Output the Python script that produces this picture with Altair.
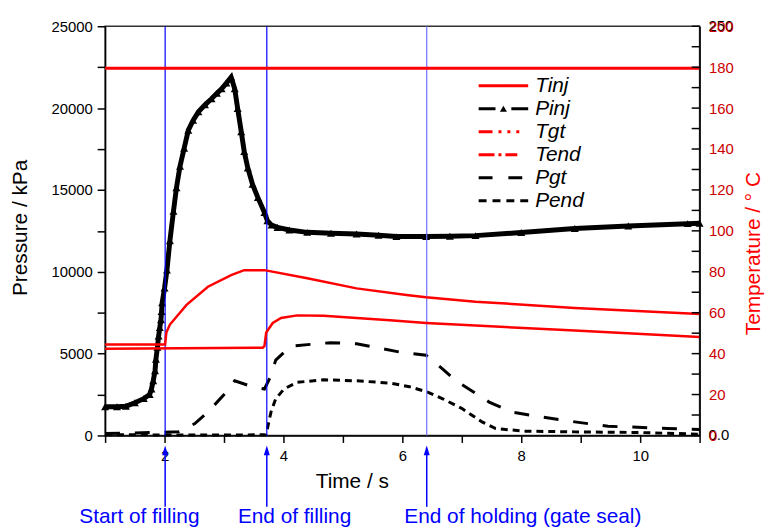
import altair as alt
import pandas as pd

# ---------------- data ----------------
pinj_t = [1.0, 1.2, 1.35, 1.5, 1.65, 1.75, 1.78, 1.81, 1.84, 1.855, 1.88, 1.9, 1.92, 1.94, 1.95, 1.96,
          2.0, 2.04, 2.09, 2.15, 2.2, 2.26, 2.33, 2.4, 2.48, 2.57, 2.68, 2.79, 2.88, 2.96, 3.04, 3.12,
          3.18, 3.23, 3.29, 3.34, 3.4, 3.48, 3.57, 3.68, 3.73, 3.8, 3.9, 4.1, 4.4, 4.8, 5.23, 5.6,
          5.9, 6.4, 6.8, 7.23, 8.0, 8.9, 9.8, 10.8, 11.0]
pinj_p = [1750, 1750, 1780, 2000, 2250, 2500, 2840, 3340, 3950, 4660, 5380, 6070, 6590, 7070, 7570, 8100,
          9000, 10100, 11900, 13700, 15130, 16450, 17550, 18650, 19250, 19770, 20200, 20570, 20900, 21180, 21530, 21890,
          21180, 19970, 18560, 17350, 16340, 15340, 14530, 13620, 13120, 12850, 12710, 12550, 12410, 12350, 12310, 12230,
          12150, 12150, 12170, 12210, 12400, 12640, 12800, 12940, 12970]

pgt_t = [1.0, 1.5, 2.0, 2.23, 2.51, 2.73, 3.01, 3.18, 3.46, 3.68, 3.79, 3.87, 4.12, 4.79, 5.23, 6.01,
         6.4, 6.68, 6.9, 7.46, 7.84, 8.34, 8.9, 9.46, 9.96, 10.46, 11.0]
pgt_p = [120, 150, 200, 223, 725, 1430, 2540, 3340, 3000, 2840, 3650, 4600, 5460, 5670, 5600, 5060,
         4900, 4050, 3340, 2040, 1430, 1130, 830, 560, 500, 420, 370]

pend_t = [1.0, 2.0, 3.0, 3.7, 3.73, 3.79, 3.87, 4.01, 4.23, 4.68, 5.23, 5.79, 6.12, 6.4, 6.68, 7.01,
          7.34, 7.57, 8.07, 8.9, 10.0, 11.0]
pend_p = [50, 30, 30, 40, 420, 1430, 2240, 2840, 3250, 3400, 3340, 3200, 2980, 2680, 2240, 1630,
          830, 420, 260, 220, 180, 80]

tinj_t = [1.0, 11.0]
tinj_v = [179.5, 179.5]

tgt_t = [1.0, 2.01, 2.03, 2.09, 2.23, 2.37, 2.73, 3.12, 3.34, 3.68, 4.4, 5.23, 6.07, 6.4, 7.23, 8.9, 11.0]
tgt_v = [44.5, 44.5, 50.3, 54.2, 59.0, 63.8, 72.7, 78.4, 80.8, 80.8, 76.8, 71.9, 68.7, 67.6, 65.4, 62.3, 59.4]

tend_t = [1.0, 3.65, 3.68, 3.71, 3.82, 3.96, 4.23, 4.68, 5.23, 5.79, 6.4, 7.23, 8.9, 11.0]
tend_v = [42.4, 42.9, 43.7, 50.3, 55.0, 57.4, 58.7, 58.5, 57.4, 56.3, 55.0, 53.7, 51.3, 48.1]

event_t = [2.01, 3.72, 6.41]
event_labels = ["Start of filling", "End of filling", "End of holding (gate seal)"]

legend_names = ["Tinj", "Pinj", "Tgt", "Tend", "Pgt", "Pend"]

temp_tick_values = list(range(0, 201, 10))
ghost_text = ["0.0", "250"]
ghost_pos = [0, 200]

# ---------------- styling ----------------
FONT = "Liberation Sans"
W, H = 600, 413
RED = "#ff0000"
BLUE = "#0000ff"
event_colors = [BLUE, BLUE, "#6f6fff"]
event_dx = [-26, 28, 97]
legend_colors = [RED, "black", RED, RED, "black", "black"]
legend_dashes = [[1, 0], [17, 16, 17], [14, 6, 3, 6, 3, 6, 3, 9], [16, 4, 3, 4, 12, 11], [14, 16], [8, 6]]

x_scale = alt.Scale(domain=[1, 11], nice=False, zero=False)
p_scale = alt.Scale(domain=[0, 25000], nice=False)
t_scale = alt.Scale(domain=[0, 200], nice=False)

x_axis = alt.Axis(values=list(range(1, 12)), labelExpr="datum.value % 2 == 0 ? datum.label : ''",
                  tickSize=7, tickWidth=1.5, tickColor="black", domainColor="black", domainWidth=1.5,
                  labelFontSize=15, labelPadding=6, labelColor="black", labelFont=FONT,
                  title="Time / s", titleFont=FONT, titleFontSize=21, titleFontWeight="normal",
                  titleColor="black", titleX=249, titleY=53, titleBaseline="alphabetic", titleAlign="center",
                  grid=False)

p_axis = alt.Axis(values=list(range(0, 25001, 2500)), format="d",
                  labelExpr="datum.value % 5000 == 0 ? datum.label : ''",
                  tickSize=8, tickWidth=1.5, tickColor="black", domainColor="black", domainWidth=1.5,
                  labelFontSize=15, labelPadding=5, labelColor="black", labelFont=FONT,
                  title="Pressure / kPa", titleFont=FONT, titleFontSize=21, titleFontWeight="normal",
                  titleColor="black", titleAngle=270, titleX=-79, titleY=203, titleBaseline="alphabetic",
                  titleAlign="center", grid=False)

t_axis = alt.Axis(orient="right", values=list(range(0, 201, 20)), format="d", ticks=False,
                  domainColor="black", domainWidth=1.5,
                  labelFontSize=15, labelPadding=9, labelColor="#cc0000", labelFont=FONT,
                  title="Temperature / \u00b0 C", titleFont=FONT, titleFontSize=21, titleFontWeight="normal",
                  titleColor=RED, titleAngle=270, titleX=60, titleY=229, titleBaseline="alphabetic",
                  titleAlign="center", grid=False, zindex=1)

X = alt.X("t:Q", scale=x_scale, axis=x_axis)
YP = alt.Y("v:Q", scale=p_scale, axis=p_axis)
YT = alt.Y("v:Q", scale=t_scale, axis=t_axis)


def df(t, v):
    return pd.DataFrame({"t": t, "v": v})


# ---------------- pressure group ----------------
pinj = alt.Chart(df(pinj_t, pinj_p)).mark_line(
    color="black", strokeWidth=5,
    point=alt.OverlayMarkDef(shape="triangle-up", filled=True, size=65, color="black", opacity=1)
).encode(x=X, y=YP)

pgt = alt.Chart(df(pgt_t, pgt_p)).mark_line(color="black", strokeWidth=3, strokeDash=[15, 15]).encode(x=X, y=YP)
pend = alt.Chart(df(pend_t, pend_p)).mark_line(color="black", strokeWidth=3, strokeDash=[7, 5]).encode(x=X, y=YP)

p_layers = [pinj, pgt, pend]
ev = pd.DataFrame({"t": event_t, "label": event_labels})
for i in range(len(event_t)):
    one = alt.Chart(ev).transform_filter(alt.datum.label == event_labels[i])
    p_layers.append(one.mark_rule(color=event_colors[i], strokeWidth=1.2).encode(x=X))
    p_layers.append(one.mark_rule(color=BLUE, strokeWidth=1.5).encode(x=X, y=alt.value(430), y2=alt.value(485)))
    p_layers.append(one.mark_point(shape="M0,-1L0.6,1L-0.6,1Z", filled=True, size=100, color=BLUE,
                                   opacity=1).encode(x=X, y=alt.value(428)))
    p_layers.append(one.mark_text(color=BLUE, fontSize=21, font=FONT, baseline="middle", align="center",
                                  dx=event_dx[i]).encode(x=X, y=alt.value(495), text="label:N"))

p_group = alt.layer(*p_layers)

# ---------------- temperature group ----------------
tinj = alt.Chart(df(tinj_t, tinj_v)).mark_line(color=RED, strokeWidth=3).encode(x=X, y=YT)
tgt = alt.Chart(df(tgt_t, tgt_v)).mark_line(color=RED, strokeWidth=2.5).encode(x=X, y=YT)
tend = alt.Chart(df(tend_t, tend_v)).mark_line(color=RED, strokeWidth=2.5).encode(x=X, y=YT)
tticks = alt.Chart(pd.DataFrame({"v": temp_tick_values})).mark_rule(color="black", strokeWidth=1.5).encode(
    x=alt.value(W), x2=alt.value(W - 8), y=YT)
ghost = alt.Chart(pd.DataFrame({"v": ghost_pos, "txt": ghost_text})).mark_text(
    align="left", baseline="middle", fontSize=15, font=FONT, color="black").encode(
    x=alt.value(W + 9), y=YT, text="txt:N")

t_group = alt.layer(tinj, tgt, tend, tticks, ghost)

# ---------------- legend group ----------------
leg = pd.DataFrame({"name": legend_names})
LY = alt.Y("name:N", scale=alt.Scale(type="point", domain=legend_names, range=[60, 176], padding=0), axis=None)
leg_lines = alt.Chart(leg).mark_rule(strokeWidth=3).encode(
    x=alt.value(377), x2=alt.value(427), y=LY,
    color=alt.Color("name:N", scale=alt.Scale(domain=legend_names, range=legend_colors), legend=None),
    strokeDash=alt.StrokeDash("name:N", scale=alt.Scale(domain=legend_names, range=legend_dashes), legend=None))
leg_tri = alt.Chart(leg).transform_filter(alt.datum.name == "Pinj").mark_point(
    shape="triangle-up", filled=True, size=50, color="black", opacity=1).encode(x=alt.value(402), y=LY)
leg_text = alt.Chart(leg).mark_text(align="left", baseline="middle", fontSize=21, fontStyle="italic",
                                    font=FONT, color="black").encode(x=alt.value(434), y=LY, text="name:N")
leg_group = alt.layer(leg_lines, leg_tri, leg_text)

chart = alt.layer(p_group, t_group, leg_group).resolve_scale(y="independent").properties(
    width=W, height=H,
    padding={"left": 98, "top": 16, "right": 66, "bottom": 95},
    autosize=alt.AutoSizeParams(type="none"),
).configure(font=FONT).configure_view(stroke="#333333", strokeWidth=1.5)

chart.save("out.html", embed_options={"renderer": "svg", "actions": False})
